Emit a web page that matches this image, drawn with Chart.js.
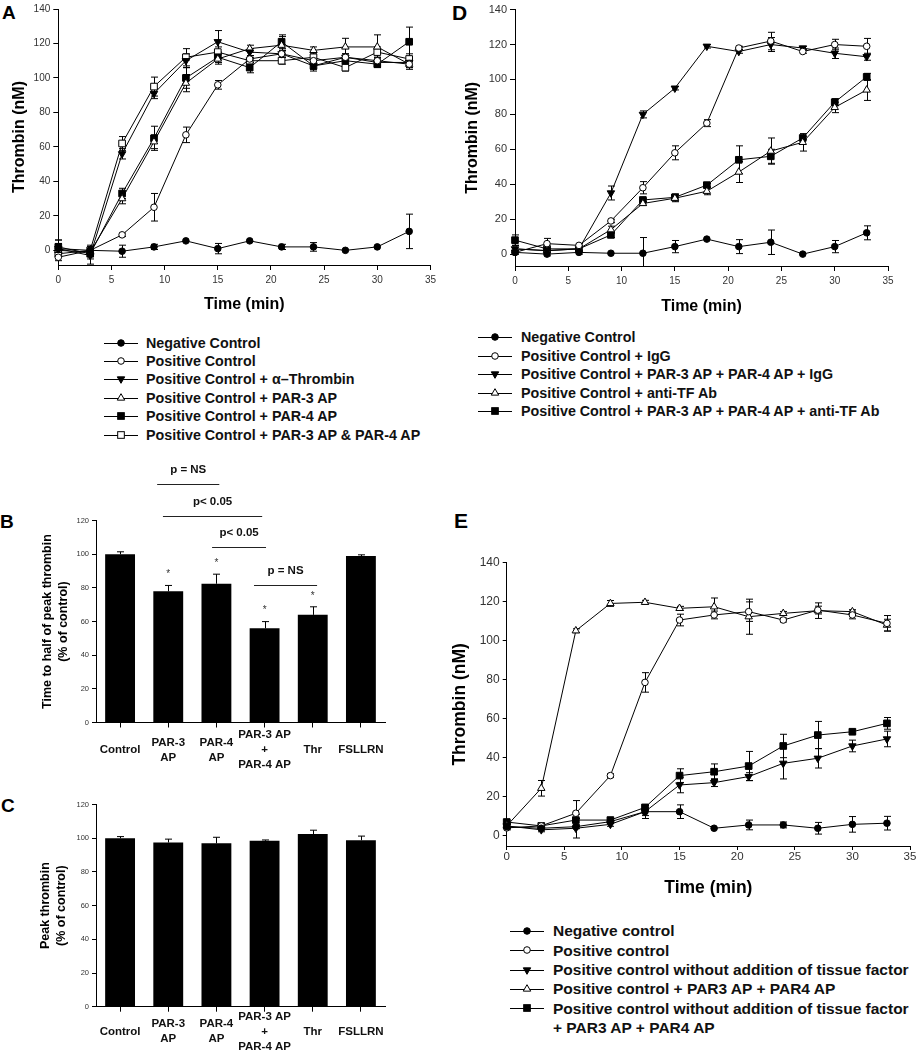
<!DOCTYPE html>
<html>
<head>
<meta charset="utf-8">
<script src="https://cdn.jsdelivr.net/npm/chart.js@4.4.1/dist/chart.umd.min.js"></script>
<style>
  body { margin: 0; background: #fff; }
  #fig { position: relative; width: 917px; height: 1050px; overflow: hidden;
         font-family: Arial, "Liberation Sans", Helvetica, sans-serif; }
  #fig canvas { position: absolute; }
  .letter { position: absolute; font-weight: bold; line-height: 1; color: #000; }
  .legrow { position: absolute; white-space: nowrap; font-weight: bold; color: #111; }
  .legrow svg { position: absolute; left: 0; }
  .legrow span { position: absolute; }
</style>
</head>
<body>
<div id="fig">
  <div class="letter" style="left:2px;top:3px;font-size:19px">A</div>
  <div class="letter" style="left:452px;top:2px;font-size:21px">D</div>
  <div class="letter" style="left:0px;top:512px;font-size:19px">B</div>
  <div class="letter" style="left:1px;top:796px;font-size:19px">C</div>
  <div class="letter" style="left:454px;top:510px;font-size:21px">E</div>

  <canvas id="chartA" width="440" height="320" style="left:0;top:0"></canvas>
  <canvas id="chartD" width="477" height="320" style="left:440px;top:0"></canvas>
  <canvas id="chartB" width="440" height="320" style="left:0;top:455px"></canvas>
  <canvas id="chartC" width="440" height="260" style="left:0;top:790px"></canvas>
  <canvas id="chartE" width="477" height="360" style="left:440px;top:540px"></canvas>
</div>
<script>
// ---------------- data ----------------
const times = [0, 3, 6, 9, 12, 15, 18, 21, 24, 27, 30, 33];
const thrombinTicks = [0, 20, 40, 60, 80, 100, 120, 140];

// Panel A
const aLabels = ['Negative Control', 'Positive Control', 'Positive Control + \u03b1\u2013Thrombin',
  'Positive Control + PAR-3 AP', 'Positive Control + PAR-4 AP', 'Positive Control + PAR-3 AP & PAR-4 AP'];
const aNeg     = [1, 0, -0.5, 2, 5.5, 1, 5.5, 2, 2, 0, 2, 11];
const aNegErr  = [5, 3, 3.5, 1.5, 0, 3, 0, 1.5, 2.5, 0, 0, 10];
const aPos     = [-4, 0, 9, 25, 67, 96, 111, 114, 110, 112, 110, 108];
const aPosErr  = [2, 2, 1, 8, 4.5, 2.5, 2, 2, 2, 2, 2, 2];
const aThr     = [1, -3, 56, 91, 110, 121, 115, 114, 107, 112, 109, 109];
const aThrErr  = [3, 5, 3, 3, 4, 6.5, 2, 2, 3, 2, 2, 3];
const aPar3    = [0, -1, 30, 63, 97, 111, 117, 119, 116, 118, 118, 108];
const aPar3Err = [2, 2, 3, 4, 5, 3, 2, 5, 2, 5, 7, 3];
const aPar4    = [2, -2, 33, 65, 100, 112, 106, 121, 107, 110, 108, 121];
const aPar4Err = [4, 3, 3, 7, 6, 3, 3, 4, 2, 3, 2, 8.5];
const aBoth    = [-2, 0, 62, 95, 112, 115, 110, 110, 112, 106, 115, 111];
const aBothErr = [2, 2, 4, 5.5, 5, 3, 2, 2, 3, 2, 3, 3];

// Panel D
const dLabels = ['Negative Control', 'Positive Control + IgG', 'Positive Control + PAR-3 AP + PAR-4 AP + IgG',
  'Positive Control + anti-TF Ab', 'Positive Control + PAR-3 AP + PAR-4 AP + anti-TF Ab'];
const dNeg       = [1, 0, 1, 0.5, 0.5, 4.3, 8.6, 4.3, 6.8, 0, 4.3, 12.2];
const dNegErr    = [1, 1, 1, 0, 9, 3.5, 0, 4, 7, 0, 3.5, 4];
const dPosIgG    = [1, 6, 5, 19, 38, 58, 75, 118, 122, 116, 120, 119];
const dPosIgGErr = [1, 3, 1, 1, 3.5, 4, 2, 1, 5, 1, 3, 4.5];
const dParIgG    = [3, 2, 3, 35, 80, 95, 119, 116, 120, 118, 115, 113];
const dParIgGErr = [2, 1, 2, 4, 2, 1, 1, 1, 4, 1, 3, 2];
const dAntiTF    = [3, 2, 3, 14, 29, 32, 36, 47, 59, 64, 84, 94];
const dAntiTFErr = [2, 1, 2, 2, 1, 2, 2, 6, 7.5, 5, 3, 6];
const dParTF     = [8, 3, 3, 11, 31, 32.5, 39.5, 54, 56, 66.5, 87, 101.5];
const dParTFErr  = [3, 1, 2, 1.5, 1, 2, 1, 8, 4, 1, 2, 2];

// Panel E
const eLabels = ['Negative control', 'Positive control', 'Positive control without addition of tissue factor',
  'Positive control + PAR3 AP + PAR4 AP',
  ['Positive control without addition of tissue factor', '+ PAR3 AP + PAR4 AP']];
const eNeg        = [4.6, 3.8, 4.6, 7.2, 12.3, 12.3, 3.8, 5.5, 5.5, 3.8, 5.8, 6.4];
const eNegErr     = [1, 1, 1, 1, 3.5, 3.5, 0, 2.5, 1.5, 3, 4, 3.5];
const ePos        = [4, 5, 11.5, 30.8, 78.6, 110.6, 113.2, 114.9, 110.6, 115.7, 113.2, 108.9];
const ePosErr     = [1, 1, 6.5, 1, 5, 3, 2, 5, 1, 2, 2, 4];
const eNoTF       = [5, 3, 3.8, 5.8, 12.3, 26, 27.2, 30.3, 37.1, 39.7, 46, 49.6];
const eNoTFErr    = [1, 1, 5, 1, 2, 4, 2, 2, 8, 5, 3, 4];
const ePar        = [5, 24.3, 105.1, 119.1, 119.7, 116.6, 117.4, 112.3, 114, 115.4, 114.9, 108];
const eParErr     = [1, 4, 1, 1.5, 1, 1, 4.5, 9, 1, 4, 1, 3];
const eNoTFPar    = [7, 5, 8, 8, 14.5, 30.8, 32.8, 35.7, 46, 51.6, 53.3, 57.6];
const eNoTFParErr = [1, 1, 3, 1, 1, 3.5, 4, 7.5, 6, 7, 1, 3];

// Panels B and C
const groups = ['Control', ['PAR-3', 'AP'], ['PAR-4', 'AP'], ['PAR-3 AP', '+', 'PAR-4 AP'], 'Thr', 'FSLLRN'];
const halfTime    = [100, 78, 82.5, 56, 64, 99];
const halfTimeErr = [1.5, 3.5, 5.7, 4, 4.8, 0.7];
const peak        = [100, 97.5, 97, 98.5, 102.5, 98.8];
const peakErr     = [1, 2, 3.6, 0.5, 2.3, 2.5];
const starred     = [1, 2, 3, 4];
// significance brackets: from/to in group units, height in % of control
const brackets = [
  { from: 0.77, to: 2.06, at: 142, text: 'p = NS' },
  { from: 0.89, to: 2.95, at: 122.7, text: 'p< 0.05' },
  { from: 1.91, to: 3.03, at: 104.4, text: 'p< 0.05' },
  { from: 2.78, to: 4.09, at: 81.7, text: 'p = NS' }
];

// ---------------- styles ----------------
const FONT = 'Arial, "Liberation Sans", Helvetica, sans-serif';
Chart.defaults.font.family = FONT;
Chart.defaults.color = '#222';

const MARK = {
  fCircle:  { style: 'circle', rot: 0, fill: '#000', r: 3.3 },
  oCircle:  { style: 'circle', rot: 0, fill: '#fff', r: 3.3 },
  fTriDown: { style: 'triangle', rot: 180, fill: '#000', r: 4.3 },
  oTriUp:   { style: 'triangle', rot: 0, fill: '#fff', r: 4.3 },
  fSquare:  { style: 'rect', rot: 0, fill: '#000', r: 4.7 },
  oSquare:  { style: 'rect', rot: 0, fill: '#fff', r: 4.7 }
};

// error bars drawn through the y scale, behind the marks
const errorBars = {
  id: 'errorBars',
  beforeDatasetsDraw(chart) {
    const { ctx, chartArea: a } = chart;
    const ys = chart.scales.y;
    ctx.save();
    ctx.beginPath();
    ctx.rect(a.left - 8, a.top - 30, a.right - a.left + 16, a.bottom - a.top + 30);
    ctx.clip();
    ctx.strokeStyle = '#000';
    ctx.lineWidth = 1;
    chart.data.datasets.forEach((ds, di) => {
      if (!ds.errors) return;
      chart.getDatasetMeta(di).data.forEach((el, i) => {
        const e = ds.errors[i];
        if (!e) return;
        const v = typeof ds.data[i] === 'object' ? ds.data[i].y : ds.data[i];
        const x = Math.round(el.x) + 0.5;
        const yTop = ys.getPixelForValue(v + e);
        const yBot = ds.upOnly ? ys.getPixelForValue(v) : ys.getPixelForValue(v - e);
        const w = 3.5;
        ctx.beginPath();
        ctx.moveTo(x, yTop); ctx.lineTo(x, yBot);
        ctx.moveTo(x - w, yTop); ctx.lineTo(x + w, yTop);
        if (!ds.upOnly) { ctx.moveTo(x - w, yBot); ctx.lineTo(x + w, yBot); }
        ctx.stroke();
      });
    });
    ctx.restore();
  }
};

function lineSet(label, values, errors, mk) {
  return {
    label: label,
    data: values.map((v, i) => ({ x: times[i], y: v })),
    errors: errors,
    pointStyle: mk.style, pointRotation: mk.rot, pointRadius: mk.r,
    pointBackgroundColor: mk.fill, pointBorderColor: '#000', pointBorderWidth: 1,
    borderColor: '#000', borderWidth: 1, tension: 0, clip: false
  };
}

function thrombinChart(id, datasets, o) {
  return new Chart(document.getElementById(id), {
    type: 'line',
    data: { datasets: datasets },
    options: {
      responsive: false, animation: false, devicePixelRatio: 1,
      layout: { padding: { left: 0, top: o.top, right: o.right, bottom: 0 } },
      plugins: { legend: { display: false }, tooltip: { enabled: false } },
      scales: {
        x: {
          type: 'linear', min: 0, max: 35,
          ticks: { stepSize: 5, font: { size: o.xTick }, padding: o.xPad, color: '#333', maxRotation: 0 },
          grid: { drawOnChartArea: false, tickLength: o.tick, color: '#000' },
          border: { color: '#000' },
          title: { display: true, text: 'Time (min)', color: '#000',
                   font: { size: o.title, weight: 'bold' }, padding: { top: 0, bottom: o.xTitlePad } },
          afterFit: s => { s.height = o.xH; }
        },
        y: {
          min: o.yMin, max: 140,
          afterBuildTicks: s => { s.ticks = thrombinTicks.map(v => ({ value: v })); },
          ticks: { font: { size: o.yTick }, padding: 3, color: '#333' },
          grid: { drawOnChartArea: false, tickLength: o.tick, color: '#000' },
          border: { color: '#000' },
          title: { display: true, text: 'Thrombin (nM)', color: '#000',
                   font: { size: o.title, weight: 'bold' }, padding: { top: o.yTitlePad, bottom: 0 } },
          afterFit: s => { s.width = o.yW; }
        }
      }
    },
    plugins: [errorBars]
  });
}

// stars and significance brackets for panel B
const annotations = {
  id: 'annotations',
  afterDatasetsDraw(chart) {
    const { ctx } = chart;
    const xs = chart.scales.x, ys = chart.scales.y;
    ctx.save();
    ctx.fillStyle = '#333';
    ctx.textAlign = 'center';
    ctx.textBaseline = 'middle';
    ctx.font = '10px ' + FONT;
    starred.forEach(i => {
      ctx.fillText('*', xs.getPixelForValue(i), ys.getPixelForValue(halfTime[i] + halfTimeErr[i]) - 11);
    });
    ctx.strokeStyle = '#222';
    ctx.lineWidth = 1;
    ctx.fillStyle = '#111';
    ctx.font = 'bold 11.5px ' + FONT;
    brackets.forEach(b => {
      const x0 = xs.getPixelForValue(b.from), x1 = xs.getPixelForValue(b.to);
      const y = Math.round(ys.getPixelForValue(b.at)) + 0.5;
      ctx.beginPath(); ctx.moveTo(x0, y); ctx.lineTo(x1, y); ctx.stroke();
      ctx.fillText(b.text, (x0 + x1) / 2, y - 15);
    });
    ctx.restore();
  }
};

function barChart(id, values, errors, o) {
  return new Chart(document.getElementById(id), {
    type: 'bar',
    data: {
      labels: groups,
      datasets: [{ data: values, errors: errors, upOnly: true, backgroundColor: '#000',
                   borderWidth: 0, barPercentage: 0.62, categoryPercentage: 1 }]
    },
    options: {
      responsive: false, animation: false, devicePixelRatio: 1,
      layout: { padding: { left: 0, top: o.top, right: 55, bottom: 0 } },
      plugins: { legend: { display: false }, tooltip: { enabled: false } },
      scales: {
        x: {
          grid: { offset: false, drawOnChartArea: false, tickLength: 5, color: '#000' },
          border: { color: '#000' },
          ticks: { font: { size: 11.5, weight: 'bold', lineHeight: 1.3 }, color: '#111',
                   padding: o.xPad, crossAlign: 'center', maxRotation: 0, autoSkip: false },
          afterFit: s => { s.height = o.xH; }
        },
        y: {
          min: 0, max: 120,
          ticks: { stepSize: 20, font: { size: 7.5 }, padding: 3, color: '#333' },
          grid: { drawOnChartArea: false, tickLength: 4, color: '#000' },
          border: { color: '#000' },
          title: { display: true, text: o.yTitle, color: '#000',
                   font: { size: 12.5, weight: 'bold', lineHeight: 1.3 },
                   padding: { top: o.yTitlePad, bottom: 0 } },
          afterFit: s => { s.width = 96; }
        }
      }
    },
    plugins: o.extra ? [errorBars, o.extra] : [errorBars]
  });
}

// ---------------- legends (HTML text) ----------------
function markerSvg(mk) {
  const c = 17, m = 7;
  let shape;
  if (mk.style === 'circle') {
    shape = '<circle cx="' + c + '" cy="' + m + '" r="' + mk.r + '" fill="' + mk.fill + '" stroke="#000"/>';
  } else if (mk.style === 'rect') {
    const h = mk.r * Math.SQRT1_2;
    shape = '<rect x="' + (c - h) + '" y="' + (m - h) + '" width="' + 2 * h + '" height="' + 2 * h +
            '" fill="' + mk.fill + '" stroke="#000"/>';
  } else {
    const r = mk.r, s = mk.rot ? -1 : 1;
    const pts = [[c, m - s * r], [c - r * 0.866, m + s * r / 2], [c + r * 0.866, m + s * r / 2]];
    shape = '<polygon points="' + pts.map(p => p.join(',')).join(' ') + '" fill="' + mk.fill + '" stroke="#000"/>';
  }
  return '<svg width="34" height="14"><line x1="0" y1="' + (m + 0.5) + '" x2="34" y2="' + (m + 0.5) +
         '" stroke="#000" stroke-width="1.2"/>' + shape + '</svg>';
}

function legend(labels, marks, o) {
  const fig = document.getElementById('fig');
  labels.forEach((lab, i) => {
    const row = document.createElement('div');
    row.className = 'legrow';
    row.style.left = o.x + 'px';
    row.style.top = (o.y + i * o.dy - o.dy / 2) + 'px';
    row.style.fontSize = o.size + 'px';
    row.style.lineHeight = o.dy + 'px';
    row.innerHTML = markerSvg(marks[i]);
    row.firstChild.style.top = ((o.dy - 14) / 2) + 'px';
    const span = document.createElement('span');
    span.style.left = o.tx + 'px';
    span.innerHTML = (Array.isArray(lab) ? lab : [lab]).join('<br>');
    row.appendChild(span);
    fig.appendChild(row);
  });
}

// ---------------- build ----------------
const aMarks = [MARK.fCircle, MARK.oCircle, MARK.fTriDown, MARK.oTriUp, MARK.fSquare, MARK.oSquare];
thrombinChart('chartA', [
  lineSet(aLabels[0], aNeg, aNegErr, aMarks[0]),
  lineSet(aLabels[1], aPos, aPosErr, aMarks[1]),
  lineSet(aLabels[2], aThr, aThrErr, aMarks[2]),
  lineSet(aLabels[3], aPar3, aPar3Err, aMarks[3]),
  lineSet(aLabels[4], aPar4, aPar4Err, aMarks[4]),
  lineSet(aLabels[5], aBoth, aBothErr, aMarks[5])
], { top: 5, right: 8.4, yW: 58.3, xH: 55, yMin: -8.5, tick: 5, xTick: 10, yTick: 10,
     xPad: 4, title: 16, xTitlePad: 5.4, yTitlePad: 10.4 });

const dMarks = [MARK.fCircle, MARK.oCircle, MARK.fTriDown, MARK.oTriUp, MARK.fSquare];
thrombinChart('chartD', [
  lineSet(dLabels[0], dNeg, dNegErr, dMarks[0]),
  lineSet(dLabels[1], dPosIgG, dPosIgGErr, dMarks[1]),
  lineSet(dLabels[2], dParIgG, dParIgGErr, dMarks[2]),
  lineSet(dLabels[3], dAntiTF, dAntiTFErr, dMarks[3]),
  lineSet(dLabels[4], dParTF, dParTFErr, dMarks[4])
], { top: 6, right: 29, yW: 75, xH: 54, yMin: -6.8, tick: 5, xTick: 10, yTick: 11,
     xPad: 4.7, title: 16, xTitlePad: 3.7, yTitlePad: 23.4 });

const eMarks = [MARK.fCircle, MARK.oCircle, MARK.fTriDown, MARK.oTriUp, MARK.fSquare];
thrombinChart('chartE', [
  lineSet('Negative control', eNeg, eNegErr, eMarks[0]),
  lineSet('Positive control', ePos, ePosErr, eMarks[1]),
  lineSet('without TF', eNoTF, eNoTFErr, eMarks[2]),
  lineSet('PAR3 AP + PAR4 AP', ePar, eParErr, eMarks[3]),
  lineSet('without TF + PAR3 AP + PAR4 AP', eNoTFPar, eNoTFParErr, eMarks[4])
], { top: 22.7, right: 7, yW: 66.7, xH: 54, yMin: -5.3, tick: 4, xTick: 11.5, yTick: 12,
     xPad: 0, title: 17.5, xTitlePad: 1.5, yTitlePad: 9.5 });

barChart('chartB', halfTime, halfTimeErr, {
  top: 65.7, xH: 52.5, xPad: 7.5, yTitlePad: 39,
  yTitle: ['Time to half of peak thrombin', '(% of control)'], extra: annotations });
barChart('chartC', peak, peakErr, {
  top: 14.6, xH: 43.3, xPad: 5, yTitlePad: 37,
  yTitle: ['Peak thrombin', '(% of control)'] });

legend(aLabels, aMarks, { x: 104, tx: 42, y: 342.7, dy: 18.4, size: 14.3 });
legend(dLabels, dMarks, { x: 478, tx: 43, y: 337.3, dy: 18.5, size: 14.3 });
legend(eLabels, eMarks, { x: 510, tx: 43, y: 931, dy: 19.3, size: 15.5 });
</script>
</body>
</html>
